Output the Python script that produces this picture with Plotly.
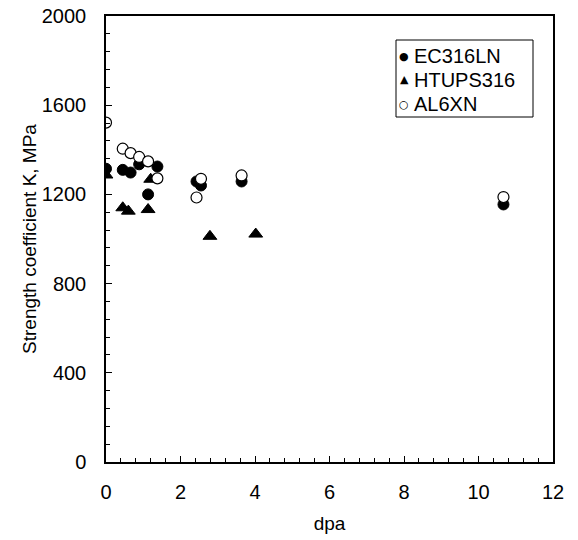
import plotly.graph_objects as go

# Strength coefficient K versus irradiation dose for three alloys
ec316ln_dpa = [0.0, 0.45, 0.66, 0.89, 1.13, 1.38, 2.43, 2.55, 3.64, 10.67]
ec316ln_k = [1315, 1310, 1298, 1335, 1200, 1325, 1258, 1240, 1258, 1155]

htups316_dpa = [0.0, 0.45, 0.60, 1.13, 1.20, 2.79, 4.02]
htups316_k = [1287, 1140, 1125, 1132, 1268, 1012, 1022]

al6xn_dpa = [0.0, 0.45, 0.66, 0.89, 1.13, 1.38, 2.43, 2.55, 3.64, 10.67]
al6xn_k = [1522, 1405, 1385, 1368, 1348, 1272, 1186, 1270, 1285, 1188]

legend_labels = ["EC316LN", "HTUPS316", "AL6XN"]
legend_glyphs = ["\u25CF", "\u25B2", "\u25CB"]

FONT = "Liberation Sans, Arial, sans-serif"
TICK_SIZE = 20
KEY_SIZE = 20

fig = go.Figure()
fig.add_trace(go.Scatter(
    x=ec316ln_dpa, y=ec316ln_k, mode="markers", name=legend_labels[0],
    marker=dict(symbol="circle", size=11, color="black",
                line=dict(color="black", width=1)),
))
fig.add_trace(go.Scatter(
    x=htups316_dpa, y=htups316_k, mode="markers", name=legend_labels[1],
    marker=dict(symbol="triangle-up", size=12, color="black",
                line=dict(color="black", width=1)),
))
fig.add_trace(go.Scatter(
    x=al6xn_dpa, y=al6xn_k, mode="markers", name=legend_labels[2],
    marker=dict(symbol="circle", size=11, color="white",
                line=dict(color="black", width=1.2)),
))

axis_common = dict(
    showline=True, linecolor="black", linewidth=1.5, mirror=True,
    showgrid=False, zeroline=False, automargin=False,
    ticks="inside", ticklen=6, tickwidth=1.2, tickcolor="black",
    tickfont=dict(family=FONT, size=TICK_SIZE, color="black"),
)

fig.update_xaxes(
    range=[0, 12], dtick=2, tick0=0,
    minor=dict(dtick=0.4, ticks="inside", ticklen=4, tickcolor="black"),
    ticklabelstandoff=11,
    title=dict(text="dpa", font=dict(family=FONT, size=19, color="black"),
               standoff=15),
    **axis_common,
)
fig.update_yaxes(
    range=[0, 2000], dtick=400, tick0=0,
    minor=dict(dtick=80, ticks="inside", ticklen=4, tickcolor="black"),
    ticklabelstandoff=14,
    title=dict(text="Strength coefficient K, MPa",
               font=dict(family=FONT, size=19, color="black"), standoff=0),
    **axis_common,
)

# Boxed key in the upper right of the plotting area
box_x0, box_x1 = 396, 533
box_y0, box_y1 = 40, 117
row_y = [56, 80, 104]
W, H = 578, 540
L, R, T, B = 106, 25, 16, 78
pw, ph = W - L - R, H - T - B


def px_to_paper(px, py):
    return (px - L) / pw, (H - B - py) / ph


x0, y1 = px_to_paper(box_x0, box_y0)
x1, y0 = px_to_paper(box_x1, box_y1)
fig.add_shape(type="rect", xref="paper", yref="paper",
              x0=x0, x1=x1, y0=y0, y1=y1,
              line=dict(color="black", width=1), fillcolor="white",
              layer="above")
for glyph, label, ry in zip(legend_glyphs, legend_labels, row_y):
    gx, gy = px_to_paper(404, ry)
    tx, _ = px_to_paper(412, ry)
    fig.add_annotation(xref="paper", yref="paper", x=gx, y=gy,
                       text=glyph, showarrow=False, xanchor="center",
                       yanchor="middle",
                       font=dict(family="DejaVu Sans", size=11,
                                 color="black"))
    fig.add_annotation(xref="paper", yref="paper", x=tx, y=gy,
                       text=label, showarrow=False, xanchor="left",
                       yanchor="middle",
                       font=dict(family=FONT, size=KEY_SIZE, color="black"))

fig.update_layout(
    width=W, height=H,
    margin=dict(l=L, r=R, t=T, b=B),
    paper_bgcolor="white", plot_bgcolor="white",
    showlegend=False,
)

fig.write_html("out.html")
